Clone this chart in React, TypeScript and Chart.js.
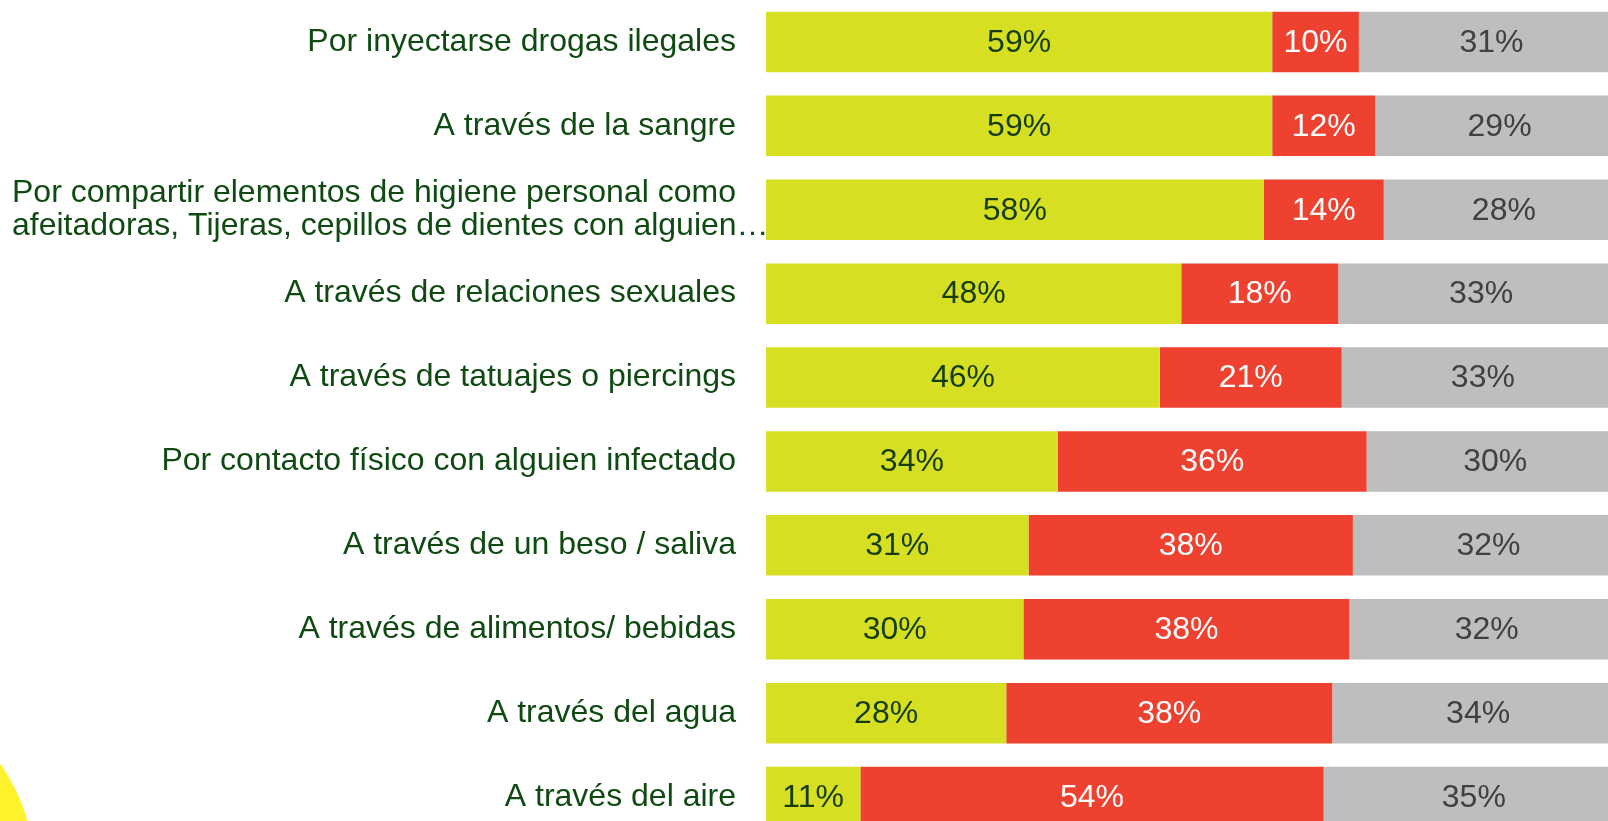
import React, { useEffect, useRef } from "react";
import { Chart, registerables } from "chart.js";

Chart.register(...registerables);

const categories = [
  "Por inyectarse drogas ilegales",
  "A través de la sangre",
  "Por compartir elementos de higiene personal como|afeitadoras, Tijeras, cepillos de dientes con alguien…",
  "A través de relaciones sexuales",
  "A través de tatuajes o piercings",
  "Por contacto físico con alguien infectado",
  "A través de un beso / saliva",
  "A través de alimentos/ bebidas",
  "A través del agua",
  "A través del aire",
];

const siValues = [59, 59, 58, 48.4, 45.9, 34, 30.6, 30, 28, 11];
const noValues = [10.1, 12, 14, 18.3, 21.2, 36, 37.8, 38, 38, 54];
const nsValues = [30.9, 29, 28, 33.3, 32.9, 30, 31.6, 32, 34, 35];

const seriesNames = ["Sí", "No", "No sabe"];
const barColors = ["#D7DF23", "#EF4130", "#BEBEBE"];
const valueTextColors = ["#143C0C", "#FFFFFF", "#404040"];
const labelColor = "#0F4A12";
const FONT = "'Liberation Sans', Arial, sans-serif";

const valueLabelsPlugin = {
  id: "valueLabels",
  afterDatasetsDraw(chart: any) {
    const ctx = chart.ctx;
    ctx.save();
    ctx.font = `32px ${FONT}`;
    ctx.textAlign = "center";
    ctx.textBaseline = "middle";
    chart.data.datasets.forEach((ds: any, i: number) => {
      const meta = chart.getDatasetMeta(i);
      meta.data.forEach((bar: any, j: number) => {
        const { x, y, base } = bar.getProps(["x", "y", "base"], true);
        ctx.fillStyle = valueTextColors[i];
        ctx.fillText(`${Math.round(ds.data[j])}%`, (x + base) / 2, y + 1);
      });
    });
    ctx.restore();
  },
};

const multiLineLabelPlugin = {
  id: "multiLineLabel",
  afterDraw(chart: any) {
    const ctx = chart.ctx;
    const yScale = chart.scales.y;
    ctx.save();
    ctx.font = `32px ${FONT}`;
    ctx.fillStyle = labelColor;
    ctx.textAlign = "left";
    ctx.textBaseline = "middle";
    categories.forEach((c, i) => {
      if (c.indexOf("|") < 0) return;
      const lines = c.split("|");
      const yc = yScale.getPixelForValue(i);
      const lh = 33;
      lines.forEach((ln, k) => {
        const y = yc + (k - (lines.length - 1) / 2) * lh;
        ctx.fillText(ln, 12, y);
      });
    });
    ctx.restore();
  },
};

export default function App() {
  const ref = useRef<HTMLCanvasElement | null>(null);

  useEffect(() => {
    if (!ref.current) return;
    const chart = new Chart(ref.current, {
      type: "bar",
      data: {
        labels: categories,
        datasets: [siValues, noValues, nsValues].map((d, i) => ({
          label: seriesNames[i],
          data: d,
          backgroundColor: barColors[i],
          borderWidth: 0,
          barPercentage: 0.721,
          categoryPercentage: 1,
        })),
      },
      options: {
        indexAxis: "y",
        responsive: false,
        animation: false,
        devicePixelRatio: 1,
        layout: { padding: { left: 0, right: 16, top: 0, bottom: 1 } },
        plugins: {
          legend: { display: false },
          tooltip: { enabled: false },
        },
        scales: {
          x: { stacked: true, min: 0, max: 100, display: false },
          y: {
            stacked: true,
            grid: { display: false, drawTicks: false },
            border: { display: false },
            ticks: {
              autoSkip: false,
              padding: 30,
              color: labelColor,
              font: { family: FONT, size: 32 },
              callback: (_v: any, i: number) =>
                categories[i].indexOf("|") >= 0 ? "" : categories[i],
            },
            afterFit: (scale: any) => {
              scale.width = 766;
              scale.paddingTop = 0;
              scale.paddingBottom = 0;
            },
          },
        },
      },
      plugins: [valueLabelsPlugin, multiLineLabelPlugin],
    } as any);
    return () => chart.destroy();
  }, []);

  return (
    <div
      style={{
        position: "fixed",
        left: 0,
        top: 0,
        width: 1608,
        height: 821,
        overflow: "hidden",
        background: "#FFFFFF",
      }}
    >
      <div
        style={{
          position: "absolute",
          left: -334,
          top: 686,
          width: 368,
          height: 368,
          borderRadius: "50%",
          background: "#FFF22D",
        }}
      />
      <canvas
        ref={ref}
        width={1640}
        height={840}
        style={{ position: "absolute", left: 0, top: 0, width: 1640, height: 840 }}
      />
    </div>
  );
}
